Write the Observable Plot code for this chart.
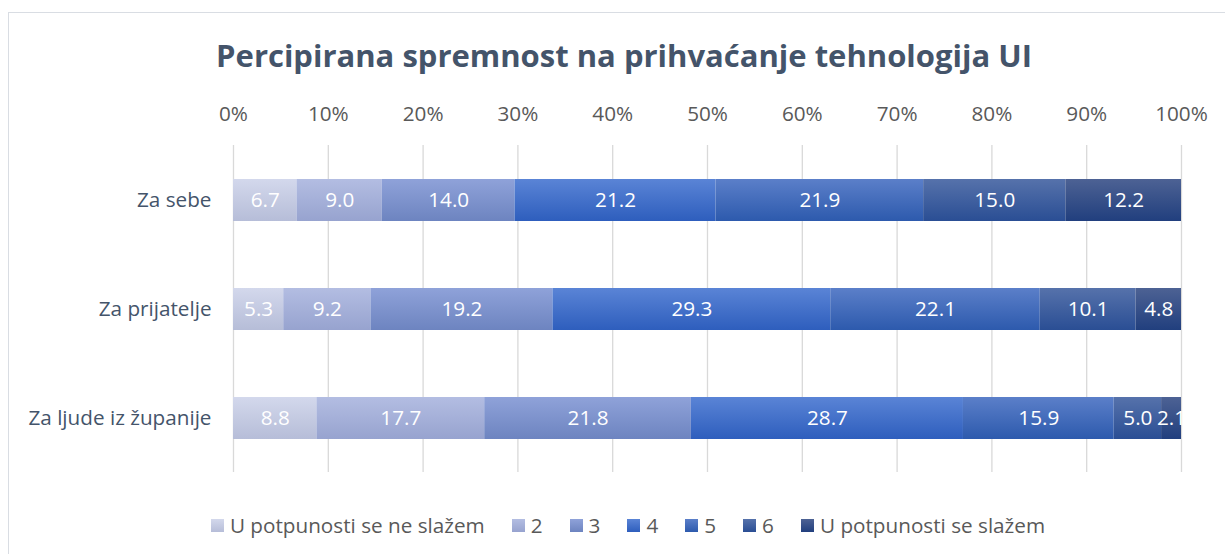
<!DOCTYPE html>
<html>
<head>
<meta charset="utf-8">
<script src="https://cdn.jsdelivr.net/npm/d3@7"></script>
<script src="https://cdn.jsdelivr.net/npm/@observablehq/plot@0.6"></script>
<style>
  body { margin: 0; background: #fff; font-family: "Open Sans", "Noto Sans", sans-serif; }
  #wrap { position: relative; width: 1225px; height: 554px; overflow: hidden; }
  #frame { position: absolute; left: 8px; top: 12px; width: 1230px; height: 600px; border: 1.5px solid #d9dde3; box-sizing: border-box; }
  #title { position: absolute; left: 0; width: 1248px; top: 37px; text-align: center; font-size: 31px; font-weight: bold; color: #44546A; line-height: 1.2; }
  #chart { position: absolute; left: 0; top: 0; }
  #legend { position: absolute; left: 0; width: 1256px; top: 513px; display: flex; justify-content: center; gap: 27px; font-size: 20.7px; color: #595959; line-height: 1.2; }
  #legend .item { display: flex; align-items: center; gap: 6px; }
  #legend .sw { width: 13px; height: 13px; display: inline-block; }
</style>
</head>
<body>
<svg width="0" height="0" style="position:absolute">
  <defs id="gradDefs"></defs>
</svg>
<div id="wrap">
  <div id="frame"></div>
  <div id="title">Percipirana spremnost na prihvaćanje tehnologija UI</div>
  <div id="chart"></div>
  <div id="legend"></div>
</div>
<script>
const categories = ["Za sebe", "Za prijatelje", "Za ljude iz županije"];
const series = ["U potpunosti se ne slažem", "2", "3", "4", "5", "6", "U potpunosti se slažem"];
const zaSebe = [6.7, 9.0, 14.0, 21.2, 21.9, 15.0, 12.2];
const zaPrijatelje = [5.3, 9.2, 19.2, 29.3, 22.1, 10.1, 4.8];
const zaLjude = [8.8, 17.7, 21.8, 28.7, 15.9, 5.0, 2.1];
const xTicks = [0, 0.1, 0.2, 0.3, 0.4, 0.5, 0.6, 0.7, 0.8, 0.9, 1.0];

// gradient colours per series (top, bottom)
const gradTop = ["#d3d8ec", "#b3bde2", "#8fa2d9", "#5a84d6", "#5b7fc9", "#5672ab", "#4d6294"];
const gradBot = ["#b6bdd8", "#97a3cf", "#6d84c0", "#2e5ebd", "#2d5aad", "#2a4e94", "#213f7e"];

const defs = document.getElementById("gradDefs");
series.forEach((s, i) => {
  const ns = "http://www.w3.org/2000/svg";
  const g = document.createElementNS(ns, "linearGradient");
  g.setAttribute("id", "g" + i);
  g.setAttribute("x1", "0"); g.setAttribute("y1", "0");
  g.setAttribute("x2", "0"); g.setAttribute("y2", "1");
  const s1 = document.createElementNS(ns, "stop");
  s1.setAttribute("offset", "0"); s1.setAttribute("stop-color", gradTop[i]);
  const s2 = document.createElementNS(ns, "stop");
  s2.setAttribute("offset", "1"); s2.setAttribute("stop-color", gradBot[i]);
  g.appendChild(s1); g.appendChild(s2);
  defs.appendChild(g);
});

const rowsByCat = [zaSebe, zaPrijatelje, zaLjude];
const data = [];
categories.forEach((c, ci) => {
  rowsByCat[ci].forEach((v, si) => {
    data.push({category: c, series: series[si], value: v / 100, label: v.toFixed(1)});
  });
});

const fillUrls = series.map((s, i) => `url(#g${i})`);
const font = "'Open Sans', 'Noto Sans', sans-serif";
const fs = 20.7;

const plot = Plot.plot({
  width: 1225,
  height: 480,
  marginLeft: 233,
  marginRight: 44,
  marginTop: 145,
  marginBottom: 8,
  style: {fontFamily: font, fontSize: fs + "px", background: "transparent"},
  x: {domain: [0, 1]},
  y: {domain: categories, paddingInner: 0.615, paddingOuter: 0.3075},
  color: {domain: series, range: fillUrls},
  marks: [
    Plot.gridX(xTicks, {stroke: "#d9d9d9", strokeOpacity: 1, strokeWidth: 1.3}),
    Plot.barX(data, Plot.stackX({x: "value", y: "category", fill: "series", order: series, inset: 0})),
    Plot.text(data, Plot.stackX({x: "value", y: "category", z: "series", order: series, text: "label", fill: "white", fontSize: fs})),
    Plot.axisX(xTicks, {anchor: "top", tickSize: 0, tickPadding: 25, tickFormat: d => Math.round(d * 100) + "%", fontSize: fs, color: "#595959", label: null}),
    Plot.axisY({tickSize: 0, tickPadding: 22, fontSize: fs, color: "#44546A", label: null})
  ]
});
document.getElementById("chart").appendChild(plot);

const legend = document.getElementById("legend");
series.forEach((s, i) => {
  const it = document.createElement("div");
  it.className = "item";
  const sw = document.createElement("span");
  sw.className = "sw";
  sw.style.background = `linear-gradient(${gradTop[i]}, ${gradBot[i]})`;
  const tx = document.createElement("span");
  tx.textContent = s;
  it.appendChild(sw); it.appendChild(tx);
  legend.appendChild(it);
});
</script>
</body>
</html>
